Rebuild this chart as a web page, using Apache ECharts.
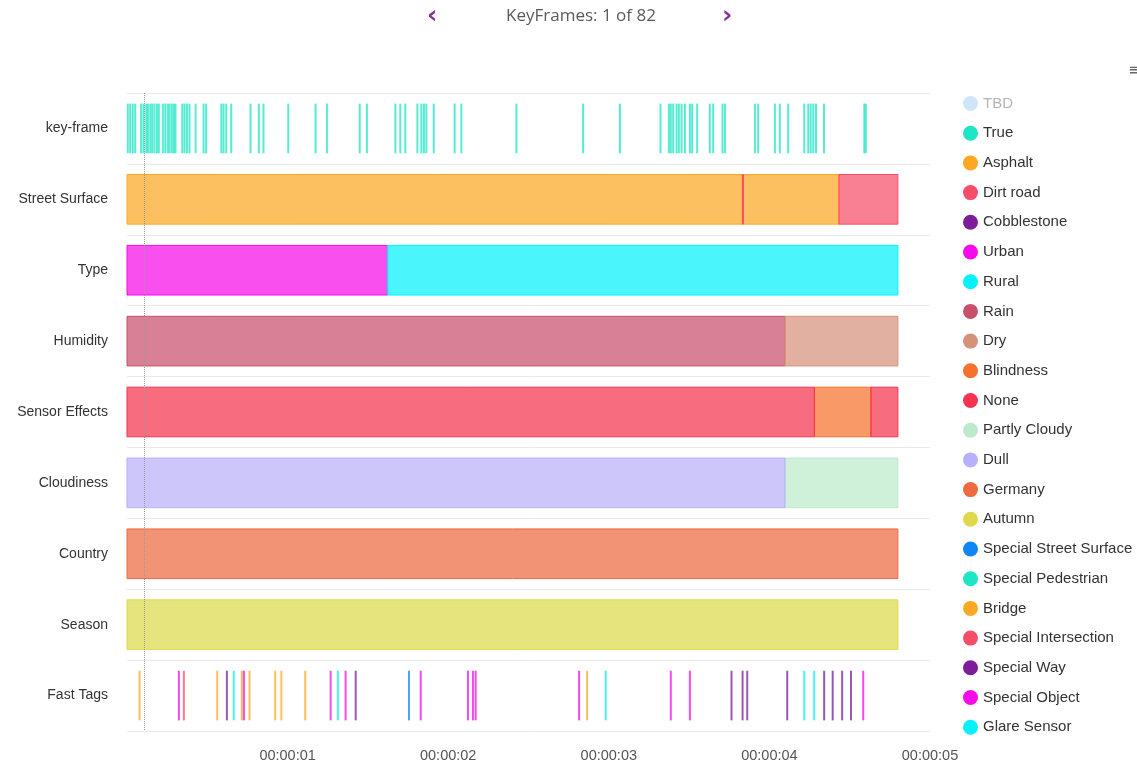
<!DOCTYPE html>
<html>
<head>
<meta charset="utf-8">
<script src="https://cdn.jsdelivr.net/npm/echarts@6/dist/echarts.min.js"></script>
<style>
html, body { margin: 0; padding: 0; background: #fff; }
#main { width: 1137px; height: 764px; }
</style>
</head>
<body>
<div id="main"></div>
<script>
var rowNames = ['key-frame', 'Street Surface', 'Type', 'Humidity', 'Sensor Effects',
		'Cloudiness', 'Country', 'Season', 'Fast Tags'];

var legendNames = ['TBD', 'True', 'Asphalt', 'Dirt road', 'Cobblestone', 'Urban', 'Rural',
		'Rain', 'Dry', 'Blindness', 'None', 'Partly Cloudy', 'Dull', 'Germany', 'Autumn',
		'Special Street Surface', 'Special Pedestrian', 'Bridge', 'Special Intersection',
		'Special Way', 'Special Object', 'Glare Sensor'];
var legendColors = ['#cfe6f8', '#1ee6c4', '#fca822', '#f64d69', '#7e1d9a', '#f70be9', '#05f1fb',
		'#c9506d', '#d6917b', '#f6712d', '#f5334f', '#bdeacb', '#b8b0fa', '#ec6a3e', '#ddd94a',
		'#0f85f6', '#1ee6c4', '#fca822', '#f64d69', '#7e1d9a', '#f70be9', '#05f1fb'];

// seconds
var keyFrameTimes = [0.005, 0.020, 0.036, 0.051, 0.088, 0.103, 0.120, 0.130, 0.145, 0.157,
		0.171, 0.186, 0.198, 0.223, 0.238, 0.254, 0.265, 0.279, 0.292, 0.302, 0.344, 0.358,
		0.373, 0.389, 0.427, 0.477, 0.493, 0.587, 0.601, 0.618, 0.649, 0.769, 0.821, 0.850,
		1.004, 1.174, 1.245, 1.449, 1.494, 1.671, 1.702, 1.733, 1.808, 1.833, 1.849, 1.864,
		1.910, 2.040, 2.082, 2.425, 2.840, 3.069, 3.322, 3.374, 3.386, 3.401, 3.422, 3.436,
		3.453, 3.474, 3.505, 3.519, 3.550, 3.629, 3.650, 3.708, 3.723, 3.910, 3.930, 4.034,
		4.065, 4.117, 4.217, 4.242, 4.257, 4.273, 4.290, 4.340, 4.591, 4.600];

var fastTagTimes = [0.078, 0.323, 0.354, 0.562, 0.622, 0.665, 0.715, 0.728, 0.763, 0.923,
		0.961, 1.110, 1.268, 1.313, 1.361, 1.424, 1.756, 1.829, 2.123, 2.154, 2.171, 2.815,
		2.865, 2.981, 3.386, 3.505, 3.764, 3.833, 3.862, 4.111, 4.217, 4.279, 4.341, 4.394,
		4.453, 4.508, 4.584];
var fastTagKinds = ['Bridge', 'Special Object', 'Special Intersection', 'Bridge', 'Special Way',
		'Glare Sensor', 'Bridge', 'Special Object', 'Bridge', 'Bridge', 'Bridge', 'Bridge',
		'Special Object', 'Glare Sensor', 'Special Object', 'Special Way', 'Special Street Surface',
		'Special Object', 'Special Object', 'Special Object', 'Special Object', 'Special Object',
		'Bridge', 'Glare Sensor', 'Special Object', 'Special Object', 'Special Way', 'Special Way',
		'Special Way', 'Special Way', 'Glare Sensor', 'Glare Sensor', 'Special Way', 'Special Way',
		'Special Way', 'Special Way', 'Special Object'];

// [label, start, end]
var streetSurface = [['Asphalt', 0, 3.832], ['Dirt road', 3.832, 3.838], ['Asphalt', 3.838, 4.433], ['Dirt road', 4.433, 4.8]];
var typeSegments = [['Urban', 0, 1.623], ['Rural', 1.623, 4.8]];
var humidity = [['Rain', 0, 4.097], ['Dry', 4.097, 4.8]];
var sensorEffects = [['None', 0, 4.28], ['Blindness', 4.28, 4.632], ['None', 4.632, 4.8]];
var cloudiness = [['Dull', 0, 4.097], ['Partly Cloudy', 4.097, 4.8]];
var country = [['Germany', 0, 4.8]];
var season = [['Autumn', 0, 4.8]];

var segmentRows = [[1, streetSurface], [2, typeSegments], [3, humidity], [4, sensorEffects],
		[5, cloudiness], [6, country], [7, season]];

var currentFrameTime = 0.111;

var pad = function(n) {
	return (n < 10 ? '0' : '') + n;
};

var formatTime = function(v) {
	var s = Math.round(v);
	return pad(Math.floor(s / 3600)) + ':' + pad(Math.floor(s / 60) % 60) + ':' + pad(s % 60);
};

var clipRect = function(params, rect) {
	return echarts.graphic.clipRectByRect(rect, {
		x : params.coordSys.x,
		y : params.coordSys.y,
		width : params.coordSys.width,
		height : params.coordSys.height
	});
};

var renderSegment = function(params, api) {
	var row = api.value(0);
	var start = api.coord([ api.value(1), row ]);
	var end = api.coord([ api.value(2), row ]);
	var h = api.size([ 0, 1 ])[1] * 0.7;
	var color = api.visual('color');
	var shape = clipRect(params, {
		x : start[0],
		y : start[1] - h / 2,
		width : Math.max(end[0] - start[0], 0.5),
		height : h
	});
	return shape && {
		type : 'rect',
		shape : shape,
		style : {
			fill : echarts.color.modifyAlpha(color, 0.72),
			stroke : color,
			lineWidth : 1
		}
	};
};

var renderTick = function(params, api) {
	var row = api.value(0);
	var p = api.coord([ api.value(1), row ]);
	var h = api.size([ 0, 1 ])[1] * 0.7;
	var color = api.visual('color');
	return {
		type : 'rect',
		shape : {
			x : p[0] - 1,
			y : p[1] - h / 2,
			width : 2,
			height : h
		},
		style : {
			fill : echarts.color.modifyAlpha(color, 0.75)
		}
	};
};

var buildSeries = function() {
	var byName = {};
	var series = [];
	for (var i = 0; i < legendNames.length; i++) {
		var s = {
			name : legendNames[i],
			type : 'custom',
			renderItem : renderSegment,
			itemStyle : {
				color : legendColors[i]
			},
			encode : {
				x : [ 1, 2 ],
				y : 0
			},
			data : []
		};
		byName[legendNames[i]] = s;
		series.push(s);
	}
	for (var r = 0; r < segmentRows.length; r++) {
		var segs = segmentRows[r][1];
		for (var j = 0; j < segs.length; j++) {
			byName[segs[j][0]].data.push([ segmentRows[r][0], segs[j][1], segs[j][2] ]);
		}
	}
	// key-frame and fast-tag markers are thin ticks, kept in separate series
	var kf = {
		name : 'True',
		type : 'custom',
		renderItem : renderTick,
		itemStyle : {
			color : '#1ee6c4'
		},
		encode : {
			x : 1,
			y : 0
		},
		data : [],
		markLine : {
			silent : true,
			symbol : 'none',
			label : {
				show : false
			},
			lineStyle : {
				type : 'dotted',
				color : '#999',
				width : 1
			},
			data : [ {
				xAxis : currentFrameTime
			} ]
		}
	};
	for (var k = 0; k < keyFrameTimes.length; k++) {
		kf.data.push([ 0, keyFrameTimes[k] ]);
	}
	series.push(kf);
	var tagSeries = {};
	for (var t = 0; t < fastTagTimes.length; t++) {
		var kind = fastTagKinds[t];
		if (!tagSeries[kind]) {
			tagSeries[kind] = {
				name : kind,
				type : 'custom',
				renderItem : renderTick,
				itemStyle : {
					color : byName[kind].itemStyle.color
				},
				encode : {
					x : 1,
					y : 0
				},
				data : []
			};
			series.push(tagSeries[kind]);
		}
		tagSeries[kind].data.push([ 8, fastTagTimes[t] ]);
	}
	return series;
};

var legendData = [];
for (var i = 0; i < legendNames.length; i++) {
	if (legendNames[i] == 'TBD') {
		legendData.push({
			name : 'TBD',
			textStyle : {
				color : '#b4b4b4'
			}
		});
	} else {
		legendData.push({
			name : legendNames[i]
		});
	}
}

var chart = echarts.init(document.getElementById('main'));
var option = {
	animation : false,
	textStyle : {
		fontFamily : 'Liberation Sans, Arial, sans-serif'
	},
	graphic : [ {
		type : 'text',
		left : 506,
		top : 8,
		style : {
			text : 'KeyFrames: 1 of 82',
			fill : '#5a5a5a',
			font : '17px "Open Sans", sans-serif'
		}
	}, {
		type : 'text',
		left : 427,
		top : 4,
		style : {
			text : '‹',
			fill : '#8e2ca0',
			font : 'bold 25px "DejaVu Sans", sans-serif'
		}
	}, {
		type : 'text',
		left : 722,
		top : 4,
		style : {
			text : '›',
			fill : '#8e2ca0',
			font : 'bold 25px "DejaVu Sans", sans-serif'
		}
	}, {
		type : 'text',
		left : 1128,
		top : 63,
		style : {
			text : '≡',
			fill : '#666',
			font : '16px "DejaVu Sans", sans-serif'
		}
	} ],
	legend : {
		orient : 'vertical',
		left : 958,
		top : 91,
		icon : 'circle',
		itemWidth : 15,
		itemHeight : 15,
		itemGap : 14.7,
		textStyle : {
			fontSize : 15,
			color : '#333'
		},
		data : legendData
	},
	grid : {
		left : 127,
		right : 207,
		top : 93,
		bottom : 33
	},
	xAxis : {
		type : 'value',
		min : 0,
		max : 5,
		interval : 1,
		splitLine : {
			show : false
		},
		axisLine : {
			lineStyle : {
				color : '#ddd'
			}
		},
		axisTick : {
			length : 9,
			lineStyle : {
				color : '#ddd'
			}
		},
		axisLabel : {
			showMinLabel : false,
			margin : 17,
			fontSize : 14.5,
			color : '#555',
			formatter : formatTime
		}
	},
	yAxis : {
		type : 'category',
		inverse : true,
		data : rowNames,
		axisLine : {
			show : false
		},
		axisTick : {
			show : false
		},
		splitLine : {
			show : true,
			lineStyle : {
				color : '#e9e9e9'
			}
		},
		axisLabel : {
			margin : 19,
			fontSize : 14,
			color : '#333'
		}
	},
	series : buildSeries()
};
chart.setOption(option);
</script>
</body>
</html>
